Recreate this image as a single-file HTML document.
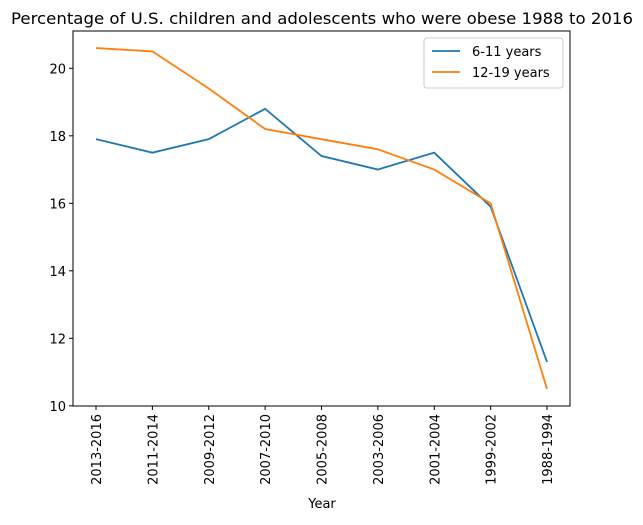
<!DOCTYPE html>
<html><head><meta charset="utf-8"><style>
body{margin:0;background:#fff;font-family:"DejaVu Sans","Liberation Sans",sans-serif;}
</style></head><body>
<svg id="c" width="643" height="521" xmlns="http://www.w3.org/2000/svg" font-family="DejaVu Sans, Liberation Sans, sans-serif"></svg>
<script>
const categories=["2013-2016","2011-2014","2009-2012","2007-2010","2005-2008","2003-2006","2001-2004","1999-2002","1988-1994"];
const kids=[17.9,17.5,17.9,18.8,17.4,17.0,17.5,15.9,11.3];
const teens=[20.6,20.5,19.4,18.2,17.9,17.6,17.0,16.0,10.5];
const yTicks=[10,12,14,16,18,20];
const seriesNames=["6-11 years","12-19 years"];
const L=73,R=570,T=31,B=406,yMin=9.995,yMax=21.105;
const x=i=>96+i*(547-96)/(categories.length-1);
const y=v=>B-(v-yMin)/(yMax-yMin)*(B-T);
const svg=document.getElementById('c');const NS='http://www.w3.org/2000/svg';
function mk(t,a,txt){const e=document.createElementNS(NS,t);for(const k in a)e.setAttribute(k,a[k]);if(txt!==undefined)e.textContent=txt;svg.appendChild(e);return e;}
let e=mk('text',{x:322,y:24,'text-anchor':'middle','font-size':16,textLength:622,lengthAdjust:'spacingAndGlyphs'},'Percentage of U.S. children and adolescents who were obese 1988 to 2016');


yTicks.forEach(v=>{
 let t=mk('line',{x1:L-4,x2:L,y1:y(v),y2:y(v),stroke:'#000'});
 
 
 let l=mk('text',{x:L-7,y:y(v)+5,'text-anchor':'end','font-size':13},String(v));
 
 
});
categories.forEach((c,i)=>{
 let t=mk('line',{x1:x(i),x2:x(i),y1:B,y2:B+4,stroke:'#000'});
 
 
 let l=mk('text',{x:0,y:0,'text-anchor':'end','font-size':13,transform:`translate(${x(i)+5},${B+8}) rotate(-90)`},c);
 
 
});
e=mk('text',{x:322,y:508,'text-anchor':'middle','font-size':13},'Year');


[[kids,'#1f77b4'],[teens,'#ff7f0e']].forEach(([d,col],si)=>{
 let p=mk('polyline',{points:d.map((v,i)=>x(i)+','+y(v)).join(' '),fill:'none',stroke:col,'stroke-width':1.8});
 
 
});
e=mk('rect',{x:L,y:T,width:R-L,height:B-T,fill:'none',stroke:'#000','stroke-width':1});


e=mk('rect',{x:424,y:38,width:139,height:50,fill:'#fff',stroke:'#ccc',rx:3});


['#1f77b4','#ff7f0e'].forEach((col,i)=>{
 let yy=51+i*21;
 let ln=mk('line',{x1:432,x2:460,y1:yy,y2:yy,stroke:col,'stroke-width':1.8});
 
 
 let t=mk('text',{x:472,y:yy+5,'font-size':13},seriesNames[i]);
 
 
});
</script>
</body></html>
